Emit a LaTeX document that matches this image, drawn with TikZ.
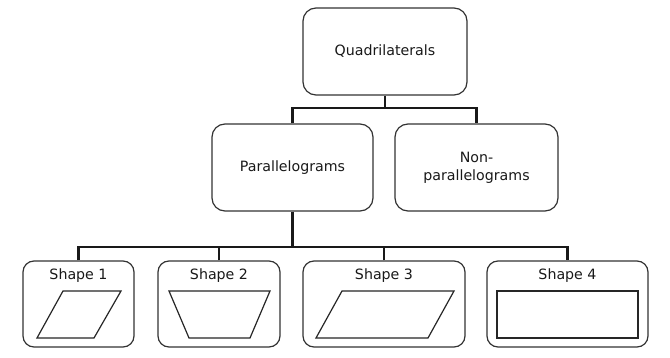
\documentclass[tikz,border=0pt]{standalone}
\usepackage{fontspec}
\setmainfont{DejaVu Sans}
\begin{document}
\begin{tikzpicture}[x=1pt,y=-1pt,
  box/.style={draw=black!80,line width=1.2pt,rounded corners=13pt,fill=white,
    align=center,font=\fontsize{14.2}{18}\selectfont,text=black!90,inner sep=0pt},
  sbox/.style={box,rounded corners=11pt},
  conn/.style={draw=black!90,line width=2.4pt},
  lab/.style={font=\fontsize{14.2}{18}\selectfont,text=black!90,inner sep=0pt},
  fig/.style={draw=black!85,line width=1.2pt,line join=miter}]
\useasboundingbox (0,0) rectangle (670,358);
% nodes
\node[box,minimum width=164pt,minimum height=87pt] (quad) at (385,51.5) {Quadrilaterals};
\node[box,minimum width=161pt,minimum height=87pt] (para) at (292.5,167.5) {Parallelograms};
\node[box,minimum width=163pt,minimum height=87pt] (non) at (476.5,167.5) {Non-\\parallelograms};
\node[sbox,minimum width=111pt,minimum height=86pt] (s1) at (78.5,304) {};
\node[sbox,minimum width=122pt,minimum height=86pt] (s2) at (219,304) {};
\node[sbox,minimum width=162pt,minimum height=86pt] (s3) at (384,304) {};
\node[sbox,minimum width=161pt,minimum height=86pt] (s4) at (567.5,304) {};
\node[lab] (l1) at (78.5,276) {Shape 1};
\node[lab] (l2) at (219,276) {Shape 2};
\node[lab] (l3) at (384,276) {Shape 3};
\node[lab] (l4) at (567.5,276) {Shape 4};
% connectors
\coordinate (j1) at (385,108);
\coordinate (j2) at (292.5,247);
\draw[conn] (quad.south) -- (j1);
\draw[conn] (para.north) |- (j1) -| (non.north);
\draw[conn] (para.south) -- (j2);
\draw[conn] (s1.north) |- (j2) -| (s4.north);
\draw[conn] (s2.north) -- (s2.north |- j2);
\draw[conn] (s3.north) -- (s3.north |- j2);
% shapes
\draw[fig] (63,291) -- (121,291) -- (94,338) -- (37,338) -- cycle;
\draw[fig] (169,291) -- (270,291) -- (250,338) -- (189,338) -- cycle;
\draw[fig] (342,291) -- (454,291) -- (428,338) -- (316,338) -- cycle;
\draw[fig] (497,291) rectangle (638,338);
\end{tikzpicture}
\end{document}
